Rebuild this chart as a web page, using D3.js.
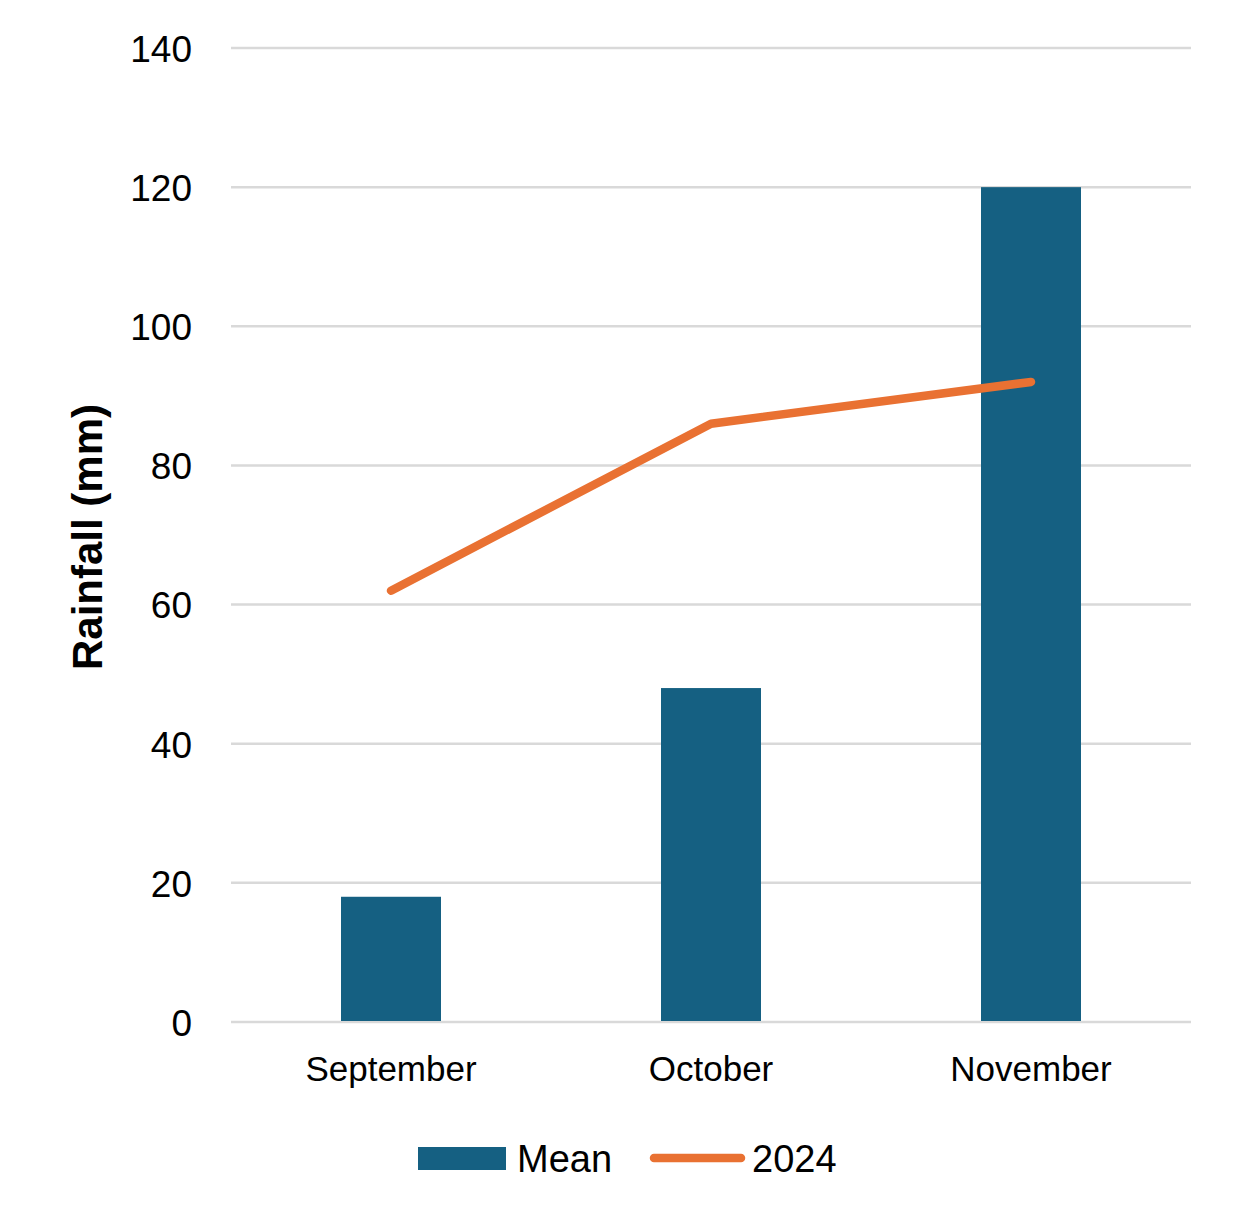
<!DOCTYPE html>
<html><head><meta charset="utf-8">
<script src="https://cdn.jsdelivr.net/npm/d3@7"></script>
<style>body{margin:0;background:#fff}svg{display:block}text{font-family:"Liberation Sans",Arial,sans-serif}</style>
</head><body>
<svg id="c" width="1242" height="1225"></svg>
<script>
const categories = ["September", "October", "November"];
const meanValues = [18, 48, 120];
const values2024 = [62, 86, 92];
const yTicks = [0, 20, 40, 60, 80, 100, 120, 140];
const seriesNames = ["Mean", "2024"];

const svg = d3.select("#c");
const x = d3.scaleBand().domain(categories).range([231, 1191]);
const y = d3.scaleLinear().domain([0, 140]).range([1022, 48]);
const blue = "#156082", orange = "#E97132";
const ff = '"Liberation Sans",Arial,sans-serif';

// gridlines
svg.append("g").selectAll("line").data(yTicks).join("line")
  .attr("x1", 231).attr("x2", 1191)
  .attr("y1", d => y(d)).attr("y2", d => y(d))
  .attr("stroke", "#d9d9d9").attr("stroke-width", 2.5);

// y axis labels
const yAxis = d3.axisLeft(y).tickValues(yTicks).tickSize(0).tickPadding(0);
const ga = svg.append("g").attr("transform", "translate(192,0)").call(yAxis);
ga.select(".domain").remove();
ga.selectAll("text").attr("font-size", 37).attr("fill", "#000").attr("dy", "0.36em")
  .style("font-family", ff);

// bars
const bw = 100;
svg.append("g").selectAll("rect").data(meanValues).join("rect")
  .attr("x", (d, i) => x(categories[i]) + x.bandwidth() / 2 - bw / 2)
  .attr("width", bw)
  .attr("y", d => y(d))
  .attr("height", d => y(0) - y(d) - 1)
  .attr("fill", blue);

// line
const line = d3.line().x((d, i) => x(categories[i]) + x.bandwidth() / 2).y(d => y(d));
svg.append("path").datum(values2024).attr("d", line)
  .attr("fill", "none").attr("stroke", orange).attr("stroke-width", 8.5)
  .attr("stroke-linecap", "round").attr("stroke-linejoin", "round");

// x axis labels
const xAxis = d3.axisBottom(x).tickSize(0).tickPadding(0);
const gx = svg.append("g").attr("transform", "translate(0,1068)").call(xAxis);
gx.select(".domain").remove();
gx.selectAll("text").attr("font-size", 35).attr("fill", "#000").attr("dy", "0.36em")
  .style("font-family", ff);

// y title
svg.append("text").attr("transform", "translate(102,537) rotate(-90)")
  .attr("text-anchor", "middle").attr("font-size", 42).attr("font-weight", "bold")
  .text("Rainfall (mm)");

// legend
const lg = svg.append("g");
lg.append("rect").attr("x", 418).attr("y", 1147).attr("width", 88).attr("height", 23).attr("fill", blue);
lg.append("text").attr("x", 517).attr("y", 1158).attr("dy", "0.36em").attr("font-size", 38).text(seriesNames[0]);
lg.append("line").attr("x1", 654).attr("x2", 741).attr("y1", 1158).attr("y2", 1158)
  .attr("stroke", orange).attr("stroke-width", 8.5).attr("stroke-linecap", "round");
lg.append("text").attr("x", 752).attr("y", 1158).attr("dy", "0.36em").attr("font-size", 38).text(seriesNames[1]);
</script>
</body></html>
